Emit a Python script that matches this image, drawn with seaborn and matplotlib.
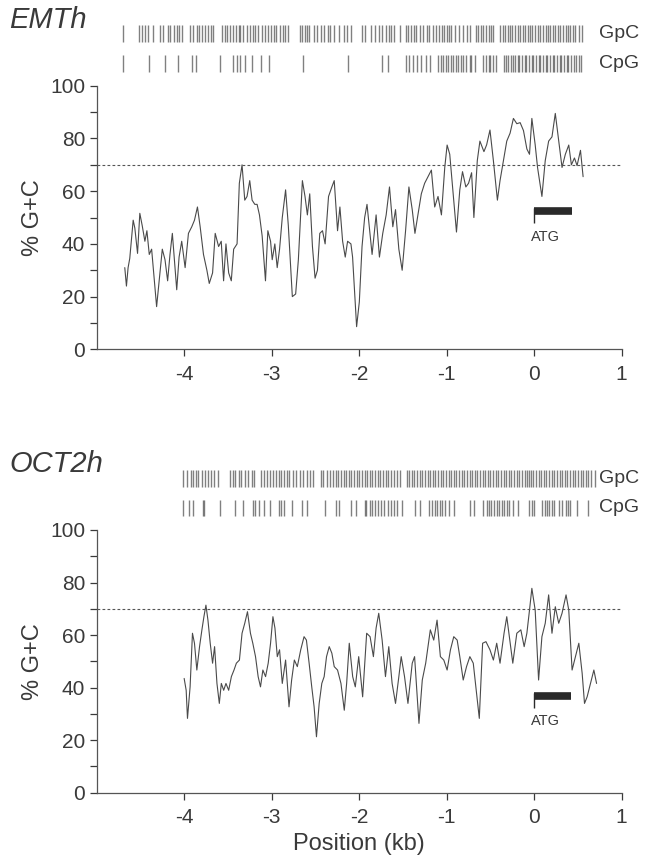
import matplotlib
matplotlib.use("Agg")
import matplotlib.pyplot as plt
import seaborn as sns
import pandas as pd

sns.set_style("ticks")
plt.rcParams['font.family'] = ['Liberation Sans', 'DejaVu Sans']
plt.rcParams['axes.unicode_minus'] = False

# ---- EMTh promoter: sliding-window %G+C ----
emt_pos = [-4.682, -4.663, -4.644, -4.625, -4.586, -4.567, -4.536, -4.510, -4.483, -4.452,
           -4.429, -4.402, -4.375, -4.318, -4.280, -4.253, -4.222, -4.192, -4.165, -4.138,
           -4.115, -4.088, -4.061, -4.031, -3.992, -3.954, -3.916, -3.885, -3.851, -3.820,
           -3.782, -3.743, -3.716, -3.678, -3.648, -3.609, -3.579, -3.552, -3.525, -3.494,
           -3.464, -3.437, -3.398, -3.372, -3.341, -3.310, -3.284, -3.253, -3.226, -3.195,
           -3.169, -3.142, -3.111, -3.073, -3.046, -3.015, -2.996, -2.966, -2.939, -2.912,
           -2.881, -2.843, -2.812, -2.766, -2.728, -2.697, -2.651, -2.621, -2.594, -2.567,
           -2.536, -2.506, -2.479, -2.452, -2.421, -2.391, -2.352, -2.314, -2.287, -2.249,
           -2.222, -2.191, -2.161, -2.134, -2.096, -2.077, -2.031, -2.000, -1.969, -1.939,
           -1.912, -1.854, -1.808, -1.770, -1.732, -1.693, -1.655, -1.617, -1.586, -1.548,
           -1.510, -1.471, -1.433, -1.395, -1.364, -1.330, -1.291, -1.253, -1.215, -1.176,
           -1.138, -1.100, -1.061, -1.023, -0.996, -0.966, -0.927, -0.889, -0.851, -0.820,
           -0.782, -0.751, -0.716, -0.690, -0.651, -0.621, -0.575, -0.544, -0.506, -0.467,
           -0.421, -0.391, -0.352, -0.314, -0.276, -0.238, -0.199, -0.161, -0.123, -0.084,
           -0.054, -0.027, 0.011, 0.038, 0.088, 0.126, 0.165, 0.203, 0.241, 0.280,
           0.318, 0.356, 0.395, 0.425, 0.460, 0.490, 0.529, 0.559]
emt_gc = [31, 24, 31, 34.5, 49, 46, 36.4, 51.6, 47, 41,
          45, 36, 38, 16.2, 29, 38, 34, 26, 36, 44,
          34, 22.6, 35, 41, 31, 44, 46.5, 49, 54, 46.5,
          36, 30, 25, 29, 44, 39, 41, 26, 40, 29,
          26, 38, 40, 63, 70, 56.6, 58, 64, 56.6, 55,
          55, 51, 43, 26, 45, 41, 34, 40, 31, 38,
          50, 60.5, 47, 20, 21, 34, 64, 58, 51, 59,
          39, 27, 30, 44, 45, 40, 58, 61.6, 64, 45,
          54, 41, 35, 41, 40, 35, 8.6, 18, 39, 50,
          55, 36, 51, 35, 44, 51, 61.6, 46.5, 53, 38,
          30, 45, 61.6, 53, 44, 51, 59, 63, 65.5, 68,
          54, 58, 51, 69, 77.5, 74, 59, 44.5, 60.5, 67.4,
          61.6, 63, 67, 50, 71.6, 79, 75, 77.6, 83.2, 71.6,
          56.6, 64, 71.6, 79, 82, 87.6, 85.6, 86, 83, 76,
          74, 87.6, 77.6, 69, 58, 71.6, 79, 80.6, 89.5, 79,
          69, 74, 77.5, 70, 72.6, 69.7, 75.5, 65.5]

emt_gpc = [-4.70, -4.52, -4.49, -4.45, -4.42, -4.36, -4.28, -4.25, -4.19, -4.16,
           -4.12, -4.09, -4.06, -4.03, -3.94, -3.90, -3.86, -3.83, -3.80, -3.77,
           -3.73, -3.70, -3.67, -3.57, -3.54, -3.51, -3.48, -3.44, -3.41, -3.38,
           -3.36, -3.33, -3.29, -3.25, -3.22, -3.19, -3.16, -3.11, -3.08, -3.04,
           -3.01, -2.98, -2.95, -2.91, -2.87, -2.85, -2.81, -2.68, -2.65, -2.62,
           -2.60, -2.57, -2.52, -2.48, -2.44, -2.40, -2.36, -2.33, -2.29, -2.23,
           -2.18, -2.14, -2.10, -1.97, -1.93, -1.87, -1.82, -1.78, -1.74, -1.69,
           -1.66, -1.64, -1.60, -1.54, -1.47, -1.44, -1.41, -1.38, -1.35, -1.31,
           -1.27, -1.23, -1.20, -1.16, -1.12, -1.09, -1.06, -1.03, -1.00, -0.97,
           -0.95, -0.91, -0.86, -0.82, -0.77, -0.74, -0.67, -0.64, -0.61, -0.58,
           -0.55, -0.52, -0.49, -0.47, -0.39, -0.36, -0.33, -0.30, -0.28, -0.25,
           -0.22, -0.19, -0.16, -0.13, -0.10, -0.07, -0.05, -0.02, 0.01, 0.04,
           0.07, 0.10, 0.13, 0.16, 0.18, 0.21, 0.24, 0.27, 0.30, 0.33,
           0.36, 0.39, 0.41, 0.44, 0.47, 0.51, 0.55]
emt_cpg = [-4.70, -4.41, -4.22, -4.07, -3.91, -3.87, -3.59, -3.45, -3.40, -3.36,
           -3.31, -3.23, -3.12, -3.03, -2.64, -2.13, -1.74, -1.67, -1.47, -1.43,
           -1.39, -1.34, -1.29, -1.24, -1.19, -1.10, -1.07, -1.04, -1.01, -0.99,
           -0.95, -0.93, -0.90, -0.87, -0.84, -0.81, -0.78, -0.74, -0.72, -0.68,
           -0.58, -0.55, -0.52, -0.50, -0.47, -0.44, -0.35, -0.32, -0.30, -0.27,
           -0.24, -0.22, -0.19, -0.17, -0.14, -0.11, -0.09, -0.06, -0.03, -0.01,
           0.02, 0.05, 0.07, 0.10, 0.13, 0.15, 0.18, 0.21, 0.23, 0.26,
           0.29, 0.31, 0.34, 0.37, 0.39, 0.42, 0.45, 0.48, 0.51, 0.54]

# ---- OCT2h promoter ----
oct_pos = [-4.003, -3.980, -3.965, -3.935, -3.908, -3.885, -3.858, -3.827, -3.800, -3.777,
           -3.754, -3.731, -3.705, -3.678, -3.655, -3.628, -3.601, -3.578, -3.551, -3.525,
           -3.494, -3.463, -3.433, -3.406, -3.371, -3.341, -3.310, -3.279, -3.245, -3.218,
           -3.187, -3.157, -3.130, -3.103, -3.072, -3.042, -3.015, -2.988, -2.965, -2.938,
           -2.912, -2.881, -2.843, -2.804, -2.774, -2.743, -2.709, -2.670, -2.632, -2.605,
           -2.574, -2.544, -2.517, -2.490, -2.459, -2.429, -2.402, -2.375, -2.344, -2.314,
           -2.287, -2.249, -2.210, -2.172, -2.145, -2.115, -2.076, -2.046, -2.007, -1.962,
           -1.916, -1.877, -1.839, -1.808, -1.778, -1.739, -1.701, -1.663, -1.625, -1.586,
           -1.548, -1.521, -1.483, -1.444, -1.395, -1.368, -1.318, -1.280, -1.241, -1.188,
           -1.149, -1.111, -1.073, -1.034, -0.996, -0.958, -0.920, -0.881, -0.851, -0.812,
           -0.774, -0.736, -0.697, -0.667, -0.628, -0.590, -0.552, -0.506, -0.467, -0.429,
           -0.391, -0.345, -0.314, -0.284, -0.245, -0.199, -0.153, -0.115, -0.084, -0.054,
           -0.027, 0.011, 0.050, 0.088, 0.126, 0.165, 0.203, 0.241, 0.280, 0.318,
           0.364, 0.395, 0.433, 0.471, 0.510, 0.548, 0.575, 0.605, 0.644, 0.682, 0.713]
oct_gc = [43.5, 39, 28.3, 40.3, 60.7, 56.9, 46.7, 55.6, 62, 67,
          71.4, 65.7, 56.9, 49.3, 55.6, 41.6, 34, 41.6, 39, 41.6,
          39, 44.2, 46.7, 49.3, 50.5, 60.7, 64.5, 68.9, 60.7, 56.9,
          51.8, 44.2, 40.3, 46.7, 44.2, 49.3, 56.9, 67, 62.7, 51.8,
          54.4, 41.6, 50.5, 32.7, 42.9, 50.5, 48, 54.4, 59.4, 58.1,
          49.3, 40.3, 32.7, 21.3, 34, 41.6, 44.2, 51.8, 55.6, 53.1,
          48, 46.7, 41.6, 31.4, 41.6, 56.9, 44.2, 40.3, 51.8, 36.5,
          60.7, 59.4, 51.8, 62.7, 68.3, 58.1, 44.2, 55.6, 41.6, 34,
          44.2, 51.8, 44.2, 34, 49.3, 51.8, 26.4, 42.9, 49.3, 62,
          58.1, 65.7, 51.8, 50.5, 46.7, 54.4, 59.4, 58.1, 51.8, 42.9,
          48, 51.8, 49.3, 40.3, 28.3, 56.9, 57.5, 54.4, 50.5, 56.9,
          49.3, 60.7, 67, 59.4, 49.3, 60.7, 62, 55.6, 60.7, 69.5,
          77.8, 69.5, 42.9, 59.4, 64.5, 75.3, 60.7, 70.8, 64.5, 68.3,
          75.3, 69.5, 46.7, 51.8, 56.9, 45.5, 34, 36.5, 41.6, 46.7, 41.6]

oct_gpc = [-4.02, -3.97, -3.93, -3.90, -3.87, -3.84, -3.80, -3.76, -3.73, -3.70,
           -3.66, -3.62, -3.48, -3.45, -3.42, -3.38, -3.35, -3.31, -3.27, -3.23,
           -3.20, -3.12, -3.09, -3.05, -3.02, -2.99, -2.95, -2.92, -2.89, -2.86,
           -2.83, -2.80, -2.76, -2.72, -2.68, -2.64, -2.60, -2.56, -2.53, -2.44,
           -2.41, -2.37, -2.33, -2.30, -2.27, -2.24, -2.21, -2.18, -2.15, -2.12,
           -2.09, -2.06, -2.03, -2.00, -1.97, -1.94, -1.91, -1.88, -1.85, -1.82,
           -1.79, -1.76, -1.73, -1.70, -1.67, -1.64, -1.60, -1.57, -1.54, -1.46,
           -1.43, -1.40, -1.37, -1.34, -1.31, -1.28, -1.25, -1.22, -1.19, -1.16,
           -1.13, -1.10, -1.07, -1.04, -1.01, -0.98, -0.95, -0.92, -0.89, -0.86,
           -0.83, -0.80, -0.77, -0.74, -0.71, -0.68, -0.65, -0.62, -0.59, -0.56,
           -0.53, -0.50, -0.47, -0.44, -0.41, -0.38, -0.35, -0.32, -0.29, -0.26,
           -0.23, -0.20, -0.17, -0.14, -0.11, -0.08, -0.06, -0.04, -0.01, 0.02,
           0.05, 0.08, 0.11, 0.14, 0.17, 0.20, 0.23, 0.26, 0.29, 0.32,
           0.35, 0.38, 0.41, 0.44, 0.47, 0.50, 0.53, 0.56, 0.59, 0.62, 0.65, 0.69]
oct_cpg = [-4.02, -3.95, -3.90, -3.79, -3.78, -3.59, -3.42, -3.33, -3.22, -3.19,
           -3.15, -3.09, -3.02, -2.92, -2.90, -2.86, -2.77, -2.66, -2.60, -2.39,
           -2.27, -2.23, -2.10, -2.04, -1.94, -1.92, -1.88, -1.85, -1.82, -1.79,
           -1.75, -1.72, -1.67, -1.64, -1.60, -1.57, -1.51, -1.36, -1.31, -1.20,
           -1.17, -1.14, -1.11, -1.08, -1.05, -1.02, -0.97, -0.92, -0.74, -0.69,
           -0.58, -0.54, -0.52, -0.49, -0.46, -0.43, -0.40, -0.37, -0.34, -0.31,
           -0.29, -0.24, -0.18, -0.06, -0.03, 0.00, 0.09, 0.12, 0.15, 0.17,
           0.20, 0.23, 0.28, 0.32, 0.36, 0.39, 0.41, 0.49, 0.62]

# coding region bar (kb) and its height in %G+C
atg_start = 0.0
atg_end = [0.43, 0.42]
atg_level = [52.3, 36.7]

panels = [
    ("EMTh", emt_pos, emt_gc, emt_gpc, emt_cpg),
    ("OCT2h", oct_pos, oct_gc, oct_gpc, oct_cpg),
]

ink = "#3a3a3a"
fig = plt.figure(figsize=(6.61, 8.66), dpi=100)
axes = [fig.add_axes([0.1467, 0.5966, 0.7938, 0.3044]),
        fig.add_axes([0.1467, 0.0846, 0.7938, 0.3034])]

for i, (ax, (name, pos, gc, gpc, cpg)) in enumerate(zip(axes, panels)):
    df = pd.DataFrame({"Position": pos, "GC": gc})
    sns.lineplot(data=df, x="Position", y="GC", ax=ax, color="#4a4a4a", lw=0.8)

    ax.axhline(70, color="#555555", lw=0.8, ls=(0, (2.5, 2)))

    # dinucleotide rows above the plot
    ax.vlines(gpc, 116.5, 123, color="#555555", lw=1.0, alpha=0.75, clip_on=False)
    ax.vlines(cpg, 105.2, 111.6, color="#555555", lw=1.0, alpha=0.75, clip_on=False)
    ax.text(0.74, 119.7, "GpC", fontsize=14, color=ink, va="center", ha="left", clip_on=False)
    ax.text(0.74, 108.4, "CpG", fontsize=14, color=ink, va="center", ha="left", clip_on=False)
    ax.text(-6.0, 125, name, fontsize=21, style="italic", color=ink,
            va="center", ha="left", clip_on=False)

    # ATG bar with a small bracket tick
    ax.hlines(atg_level[i], atg_start, atg_end[i], color="#2a2a2a", lw=5.5)
    ax.vlines(atg_start, atg_level[i] - 4.5, atg_level[i] + 1.3, color="#2a2a2a", lw=1.0)
    ax.text(0.13, atg_level[i] - 9.5, "ATG", fontsize=10.5, color=ink, ha="center", va="center")

    ax.set_xlim(-5, 1)
    ax.set_ylim(0, 100)
    ax.set_xticks([-4, -3, -2, -1, 0, 1])
    ax.set_yticks([0, 20, 40, 60, 80, 100])
    ax.set_yticks(range(0, 101, 10), minor=True)
    ax.tick_params(axis="both", which="both", direction="out", length=5, width=0.9,
                   colors=ink, labelsize=15)
    ax.tick_params(axis="x", pad=6)
    ax.set_ylabel("% G+C", fontsize=17, color=ink, labelpad=4)
    ax.set_xlabel("")
    for s in ["left", "bottom"]:
        ax.spines[s].set_color("#555555")
        ax.spines[s].set_linewidth(0.9)
    sns.despine(ax=ax)

axes[1].set_xlabel("Position (kb)", fontsize=17, color=ink, labelpad=4)

fig.savefig("out.png", dpi=100, facecolor="white")
